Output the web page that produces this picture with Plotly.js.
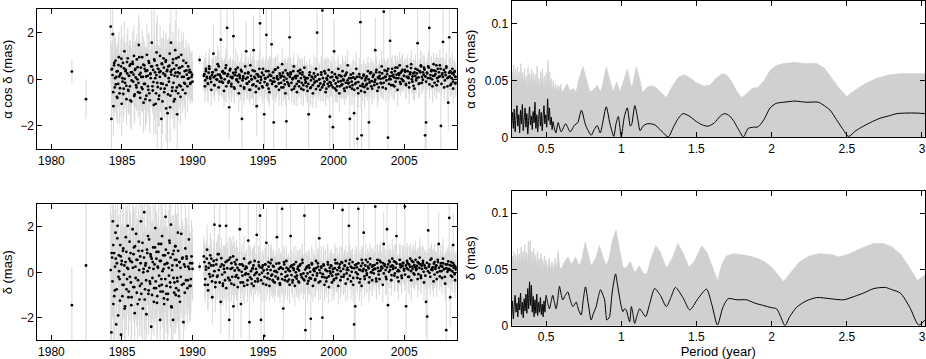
<!DOCTYPE html>
<html><head><meta charset="utf-8">
<script src="https://cdn.plot.ly/plotly-3.0.1.min.js"></script>
<style>html,body{margin:0;padding:0;background:#fff}#chart{width:926px;height:359px}</style>
</head><body><div id="chart"></div>
<script>
// ---- observation epochs (years), main set ----
const epochs = [
1981.45,1982.45,
1984.20,1984.25,1984.30,1984.35,1984.39,1984.44,1984.49,1984.54,1984.59,1984.64,
1984.69,1984.73,1984.78,1984.83,1984.88,1984.93,1984.98,1985.03,1985.07,1985.12,
1985.17,1985.22,1985.27,1985.32,1985.37,1985.41,1985.46,1985.51,1985.56,1985.61,
1985.66,1985.71,1985.75,1985.80,1985.85,1985.90,1985.95,1986.00,1986.05,1986.09,
1986.14,1986.19,1986.24,1986.29,1986.34,1986.39,1986.43,1986.48,1986.53,1986.58,
1986.63,1986.68,1986.73,1986.77,1986.82,1986.87,1986.92,1986.97,1987.02,1987.07,
1987.11,1987.16,1987.21,1987.26,1987.31,1987.36,1987.41,1987.45,1987.50,1987.55,
1987.60,1987.65,1987.70,1987.75,1987.79,1987.84,1987.89,1987.94,1987.99,1988.04,
1988.09,1988.13,1988.18,1988.23,1988.28,1988.33,1988.38,1988.43,1988.47,1988.52,
1988.57,1988.62,1988.67,1988.72,1988.77,1988.81,1988.86,1988.91,1988.96,1989.01,
1989.06,1989.11,1989.15,1989.20,1989.25,1989.30,1989.35,1989.40,1989.45,1989.49,
1989.54,1989.59,1989.64,1989.69,1989.74,1989.79,1989.83,1989.88,1989.93,1990.00,
1990.50,
1990.80,1990.88,1990.95,1991.03,1991.10,1991.18,1991.25,1991.33,1991.40,1991.48,
1991.55,1991.63,1991.70,1991.78,1991.85,1991.93,1992.00,1992.08,1992.15,1992.23,
1992.30,1992.38,1992.45,1992.53,1992.60,1992.68,1992.75,1992.83,1992.90,1992.98,
1993.05,1993.13,1993.20,1993.28,1993.35,1993.43,1993.50,1993.58,1993.65,1993.73,
1993.80,1993.88,1993.95,1994.03,1994.10,1994.18,1994.25,1994.33,1994.40,1994.48,
1994.55,1994.63,1994.70,1994.78,1994.85,1994.93,1995.00,1995.08,1995.15,1995.23,
1995.30,1995.38,1995.45,1995.53,1995.60,1995.68,1995.75,1995.83,1995.90,1995.98,
1996.05,1996.13,1996.20,1996.28,1996.35,1996.43,1996.50,1996.58,1996.65,1996.73,
1996.80,1996.88,1996.95,1997.03,1997.10,1997.18,1997.25,1997.33,1997.40,1997.48,
1997.55,1997.63,1997.70,1997.78,1997.85,1997.93,1998.00,1998.08,1998.15,1998.23,
1998.30,1998.38,1998.45,1998.53,1998.60,1998.68,1998.75,1998.83,1998.90,1998.98,
1999.05,1999.13,1999.20,1999.28,1999.35,1999.43,1999.50,1999.58,1999.65,1999.73,
1999.80,1999.88,1999.95,2000.03,2000.10,2000.18,2000.25,2000.33,2000.40,2000.48,
2000.55,2000.63,2000.70,2000.78,2000.85,2000.93,2001.00,2001.08,2001.15,2001.23,
2001.30,2001.38,2001.45,2001.53,2001.60,2001.68,2001.75,2001.83,2001.90,2001.98,
2002.05,2002.13,2002.20,2002.28,2002.35,2002.43,2002.50,2002.58,2002.65,2002.73,
2002.80,2002.88,2002.95,2003.03,2003.10,2003.18,2003.25,2003.33,2003.40,2003.48,
2003.55,2003.63,2003.70,2003.78,2003.85,2003.93,2004.00,2004.08,2004.15,2004.23,
2004.30,2004.38,2004.45,2004.53,2004.60,2004.68,2004.75,2004.83,2004.90,2004.98,
2005.05,2005.13,2005.20,2005.28,2005.35,2005.43,2005.50,2005.58,2005.65,2005.73,
2005.80,2005.88,2005.95,2006.03,2006.10,2006.18,2006.25,2006.33,2006.40,2006.48,
2006.55,2006.63,2006.70,2006.78,2006.85,2006.93,2007.00,2007.08,2007.15,2007.23,
2007.30,2007.38,2007.45,2007.53,2007.60,2007.68,2007.75,2007.83,2007.90,2007.98,
2008.05,2008.12,2008.19,2008.26,2008.33,2008.40,2008.47,2008.54,2008.61,2008.68
];
const raValues = [
0.33,-0.85,
2.26,-1.70,0.45,1.93,-1.15,0.60,-0.35,0.80,0.10,-0.75,
0.35,-0.20,0.95,-0.60,0.20,0.55,-1.05,0.05,0.70,-0.40,
1.20,-0.15,0.40,-0.85,0.25,0.90,-0.50,0.15,-0.30,0.65,
-0.95,0.30,0.75,-0.10,1.00,-0.65,0.45,-0.25,0.85,0.00,
-0.55,1.47,0.20,-0.80,0.50,-0.35,0.95,0.10,-1.00,0.60,
-0.20,0.35,-0.70,1.05,0.15,-0.45,0.70,-0.90,0.25,0.55,
1.57,-0.30,0.40,-1.10,0.80,0.05,-0.60,1.15,-0.15,0.45,
-0.85,0.30,1.00,-0.40,-1.70,0.65,-0.20,0.90,-0.55,0.20,
0.75,-1.25,0.35,-1.45,0.55,-0.10,1.10,-0.70,1.57,0.40,
-0.35,0.85,-0.95,0.15,1.25,-0.50,0.60,-1.50,0.30,0.95,
-0.25,0.50,-0.75,1.05,0.10,-0.45,0.80,-0.15,0.35,-0.60,
0.70,0.20,-0.30,0.55,0.05,0.40,-0.20,0.30,0.10,-0.10,
0.83,
0.15,-0.30,0.45,0.05,-0.20,0.55,0.10,-0.45,0.30,1.10,
-0.25,0.40,0.00,0.65,-0.35,0.20,1.70,-0.10,0.35,-0.50,
0.25,0.60,2.20,-0.15,-1.20,0.45,-0.30,0.10,1.85,-0.40,
0.30,-0.05,0.50,-0.60,0.15,0.40,-1.70,0.05,-0.35,0.55,
1.20,-0.20,0.25,-0.45,0.60,0.00,-0.25,1.25,0.35,-0.55,
-1.15,0.20,-0.40,2.40,0.10,-0.30,0.45,-1.50,0.05,1.90,
-0.20,0.35,-0.55,0.15,1.50,-0.10,-1.85,0.40,-0.30,0.05,
0.50,-0.45,0.20,-0.15,0.65,-0.35,0.10,-0.60,-1.80,0.25,
-0.20,1.80,0.30,-0.45,0.05,0.55,-0.30,0.15,-0.55,0.35,
-0.10,0.40,-0.40,0.20,-0.25,0.50,-0.15,0.05,-0.50,-1.50,
0.30,-0.35,0.10,-0.60,0.25,-0.10,0.45,2.00,-0.30,0.00,
-0.45,0.20,2.95,-0.25,0.35,-0.55,0.05,-0.20,0.40,-1.60,
-0.15,0.30,-2.05,1.20,-0.40,0.10,-0.30,0.45,-0.60,0.15,
-0.25,0.35,-0.05,-0.50,0.20,-0.35,0.60,-0.15,-1.70,0.05,
-0.40,0.25,-1.45,-0.20,0.45,-2.55,-0.60,0.10,2.45,-2.40,
-0.30,0.20,-0.55,0.05,-0.20,0.35,-1.85,-0.10,0.30,-0.40,
0.15,-0.25,1.25,0.40,-0.50,0.05,0.30,-0.15,0.55,-0.35,
2.90,0.10,-0.40,0.35,-2.50,0.00,1.65,-0.25,0.45,0.20,
-0.30,0.50,0.05,-0.45,0.25,0.60,-0.20,0.35,-0.05,0.15,
0.40,-0.25,0.55,0.10,-0.35,0.30,0.65,-0.10,0.25,-0.40,
0.45,0.05,1.55,-0.20,0.35,0.60,-0.15,0.30,0.50,-2.40,
-1.85,0.25,0.55,2.20,0.05,0.40,-0.30,0.65,0.15,0.35,
-0.25,0.45,0.10,0.60,-2.00,0.20,1.60,-0.35,0.30,0.50,
0.05,-1.00,1.80,0.35,-0.20,0.25,-0.40,0.30,0.10,-0.15
];
const raErrors = [
0.5,0.85,
2.5,1.6,1.2,1.4,1.3,1.1,1.2,1.0,1.3,1.1,
1.2,1.0,1.1,1.3,0.9,1.2,1.4,1.0,1.1,1.2,
1.3,1.0,1.2,1.1,0.9,1.3,1.0,1.1,1.2,1.0,
1.2,1.1,0.9,1.0,1.3,1.1,1.2,1.0,1.1,0.9,
1.1,1.3,1.0,1.2,1.1,1.0,1.2,1.1,1.3,1.0,
1.1,1.0,1.2,1.3,1.0,1.1,1.2,1.4,1.0,1.1,
2.8,1.0,1.1,1.3,1.2,1.0,1.1,1.3,2.9,1.0,
1.2,1.1,1.3,1.0,1.6,1.1,1.0,1.2,1.1,1.0,
1.1,1.4,1.0,1.6,1.2,1.1,1.3,1.0,2.5,1.1,
1.0,1.2,1.1,1.0,1.3,1.1,1.0,1.5,1.1,1.2,
1.0,1.1,1.2,1.0,1.1,1.0,1.2,1.1,1.0,1.1,
1.0,0.9,1.1,1.0,0.9,1.0,0.8,0.9,1.0,0.9,
0.2,
0.6,0.7,0.5,0.6,0.8,0.6,0.5,0.7,0.6,1.2,
0.7,0.6,0.5,0.8,0.6,0.7,1.8,0.6,0.5,0.7,
0.6,0.7,2.5,0.6,1.4,0.5,0.7,0.6,2.0,0.6,
0.5,0.7,0.6,0.8,0.6,0.5,1.9,0.7,0.6,0.5,
1.3,0.6,0.7,0.5,0.6,0.8,0.6,1.5,0.5,0.7,
1.3,0.6,0.5,2.8,0.7,0.6,0.5,1.6,0.6,2.2,
0.7,0.5,0.6,0.8,1.7,0.6,2.0,0.5,0.7,0.6,
0.6,0.7,0.5,0.6,0.7,0.6,0.8,0.5,2.0,0.6,
0.7,2.1,0.6,0.5,0.7,0.6,0.8,0.5,0.6,0.7,
0.6,0.5,0.7,0.6,0.8,0.5,0.6,0.7,0.5,1.7,
0.6,0.7,0.5,0.6,0.8,0.6,0.5,2.3,0.6,0.7,
0.5,0.6,3.0,0.7,0.5,0.6,0.8,0.6,0.5,1.8,
0.6,0.7,2.2,1.4,0.6,0.5,0.7,0.6,0.8,0.5,
0.6,0.7,0.5,0.6,0.8,0.5,0.7,0.6,1.9,0.5,
0.7,0.6,1.6,0.5,0.7,2.8,0.6,0.5,2.7,2.6,
0.6,0.5,0.7,0.6,0.5,0.6,2.0,0.5,0.6,0.7,
0.5,0.6,1.4,0.5,0.7,0.6,0.5,0.6,0.7,0.5,
3.0,0.5,0.6,0.5,2.7,0.6,1.8,0.5,0.6,0.5,
0.6,0.5,0.6,0.7,0.5,0.6,0.5,0.6,0.5,0.6,
0.5,0.6,0.5,0.6,0.7,0.5,0.6,0.5,0.6,0.5,
0.6,0.5,1.8,0.6,0.5,0.6,0.5,0.7,0.6,2.6,
2.0,0.5,0.6,2.4,0.5,0.6,0.7,0.5,0.6,0.5,
0.6,0.5,0.6,0.7,2.2,0.5,1.8,0.6,0.5,0.6,
0.5,1.2,2.0,0.6,0.5,0.6,0.7,0.5,0.6,0.5
];
const decValues = [
-1.45,0.30,
0.10,-2.65,0.65,2.25,-1.40,0.85,-0.80,1.75,-2.30,0.40,
2.05,-1.90,0.75,-0.30,1.20,-2.75,0.50,-1.05,0.95,-0.55,
0.30,-1.50,1.55,-0.75,0.20,2.05,-1.10,0.60,-0.20,0.85,
-1.45,0.45,1.90,-0.65,1.10,-1.80,0.25,1.70,-0.90,0.55,
-0.35,1.35,-1.20,0.70,2.25,-0.50,0.95,-1.60,0.15,2.65,
-0.75,0.40,-1.85,1.00,0.05,-0.95,1.45,-0.40,0.80,-2.40,
0.60,-0.25,1.10,-1.30,0.35,1.95,-0.70,0.90,-1.05,0.20,
1.25,-0.60,-2.10,0.50,-0.30,1.60,-0.85,0.15,-1.40,0.75,
2.45,-0.95,0.40,-1.20,0.85,-0.15,1.30,-0.65,2.10,-1.55,
0.30,-2.10,0.95,-0.45,1.15,-1.00,0.55,-0.25,1.75,-0.80,
0.45,-1.30,0.20,1.70,-0.55,0.65,-2.20,0.35,-0.90,1.05,
-0.35,0.60,-0.70,0.25,1.45,-0.60,0.40,-0.30,0.70,0.15,
0.25,
0.70,-0.55,0.25,1.00,-0.80,0.40,-0.20,0.60,-1.10,0.30,
2.10,-0.45,0.55,-0.15,0.80,2.05,-1.30,0.35,-0.60,0.15,
-0.35,2.05,0.50,-0.25,-2.10,0.65,-0.50,0.20,-1.50,0.45,
-0.20,0.55,-0.65,0.10,1.90,-1.40,0.35,-0.45,0.60,-0.10,
0.25,-0.55,1.40,-2.20,0.45,-0.30,0.15,-0.60,0.50,-0.05,
1.65,-0.40,0.30,2.50,-2.10,0.20,-0.50,-2.80,0.35,1.30,
-0.25,0.45,-0.60,0.10,0.55,-0.35,0.25,-0.45,0.05,1.55,
-0.30,0.40,-0.55,0.20,2.80,-1.60,0.35,-0.20,0.50,-0.40,
0.15,-0.55,1.60,0.30,-0.35,0.10,-0.60,0.45,-0.15,0.25,
-0.45,0.35,-0.10,0.55,-0.30,2.50,-2.55,0.20,-0.50,0.30,
-0.25,-2.05,0.40,-0.60,0.15,-0.35,0.50,-0.05,0.25,1.50,
-0.40,0.20,-2.00,0.35,-0.55,0.10,-0.25,0.45,-0.65,0.05,
0.30,-0.45,0.15,-0.30,0.55,-0.10,0.40,-0.60,0.20,-0.35,
0.45,2.75,-0.20,0.30,-0.50,0.10,-0.30,2.05,0.55,-0.40,
0.20,-0.55,-2.30,-1.50,0.35,-0.25,2.80,-0.45,0.10,-0.60,
0.40,1.75,-0.30,0.55,-0.05,0.25,-0.45,0.60,0.00,-0.35,
0.30,0.15,2.90,-0.40,0.55,0.05,-0.30,0.45,0.20,-0.55,
1.25,0.35,-0.20,1.90,-1.45,0.50,0.10,-0.35,0.60,0.25,
-0.15,0.45,1.60,0.05,-0.40,0.55,0.30,-0.25,0.40,0.15,
2.90,-1.50,0.50,-0.20,0.35,0.60,-0.35,0.25,0.45,-0.10,
0.55,0.15,-0.30,0.40,0.65,-0.15,0.30,0.50,-0.45,0.20,
-1.30,-1.95,1.85,0.35,-0.20,0.60,0.10,-0.40,0.45,0.25,
-0.30,0.55,1.25,0.05,0.40,-0.25,0.60,0.15,-0.50,-2.55,
0.35,0.10,2.40,-1.10,0.45,-0.20,1.20,0.30,-0.35,0.20
];
const decErrors = [
1.7,3.5,
3.4,1.8,1.6,2.0,1.7,1.9,1.5,1.8,1.6,1.7,
2.0,1.6,1.8,1.5,1.9,1.7,1.6,1.8,2.0,1.5,
1.7,1.9,1.6,1.8,1.5,2.0,1.7,1.6,1.9,1.8,
1.6,1.7,2.2,1.5,1.8,1.9,1.6,1.7,1.5,1.8,
1.7,2.0,1.6,1.8,1.9,1.5,2.2,1.7,1.6,1.9,
1.8,1.6,1.7,2.0,1.5,1.8,1.9,1.6,2.1,1.7,
1.6,1.8,1.9,1.5,1.7,2.0,1.6,1.8,1.7,1.9,
1.9,1.6,1.7,1.8,1.5,2.1,1.6,1.9,1.7,1.8,
2.0,1.7,1.6,1.8,1.9,1.5,1.7,1.8,2.0,1.6,
1.7,1.9,1.6,1.8,1.5,1.7,2.0,1.6,1.8,1.7,
1.6,1.8,1.7,1.9,1.5,1.6,1.8,1.7,1.6,1.9,
1.5,1.7,1.6,1.8,1.5,1.6,1.4,1.5,1.6,1.4,
0.2,
0.9,0.8,1.0,1.1,0.9,0.8,1.0,0.9,1.2,0.8,
2.3,0.9,0.8,1.0,0.9,2.2,1.4,0.8,0.9,1.0,
0.9,2.4,0.8,1.0,2.3,0.9,0.8,1.0,1.6,0.9,
0.8,0.9,1.0,0.8,2.1,1.5,0.9,0.8,1.0,0.9,
0.7,0.8,1.6,2.4,0.7,0.8,0.9,0.7,0.8,0.7,
1.8,0.7,0.8,2.8,2.3,0.7,0.8,3.0,0.7,1.5,
0.7,0.8,0.7,0.9,0.7,0.8,0.7,0.8,0.7,1.7,
0.8,0.7,0.8,0.7,3.0,1.8,0.7,0.8,0.7,0.8,
0.7,0.8,1.8,0.7,0.8,0.7,0.9,0.7,0.8,0.7,
0.8,0.7,0.8,0.7,0.9,2.7,2.8,0.7,0.8,0.7,
0.7,2.3,0.8,0.7,0.8,0.7,0.9,0.7,0.8,1.7,
0.8,0.7,2.2,0.8,0.7,0.9,0.7,0.8,0.7,0.8,
0.7,0.8,0.7,0.9,0.7,0.8,0.7,0.8,0.7,0.8,
0.7,3.0,0.8,0.7,0.8,0.7,0.9,2.3,0.7,0.8,
0.8,0.7,2.5,1.7,0.8,0.7,3.0,0.8,0.7,0.9,
0.7,1.9,0.8,0.7,0.8,0.7,0.9,0.7,0.8,0.7,
0.8,0.7,3.0,0.8,0.7,0.8,0.7,0.9,0.7,0.8,
1.4,0.7,0.8,2.1,1.6,0.7,0.8,0.7,0.9,0.7,
0.7,0.8,1.8,0.7,0.8,0.7,0.9,0.7,0.8,0.7,
3.0,1.7,0.8,0.7,0.8,0.7,0.9,0.7,0.8,0.7,
0.8,0.7,0.8,0.7,0.9,0.7,0.8,0.7,0.8,0.7,
1.5,2.2,2.0,0.7,0.8,0.7,0.9,0.7,0.8,0.7,
0.8,0.7,1.4,0.7,0.8,0.7,0.9,0.7,0.8,2.8,
0.7,0.8,2.6,1.3,0.8,0.7,1.4,0.7,0.8,0.7
];

// ---- additional sessions (denser sampling) ----
const extraEpochs = [
1984.27,1984.33,1984.38,1984.45,1984.51,1984.56,1984.62,1984.67,1984.75,1984.80,
1984.86,1984.91,1984.96,1985.04,1985.09,1985.14,1985.19,1985.25,1985.31,1985.36,
1985.43,1985.48,1985.54,1985.59,1985.63,1985.68,1985.77,1985.82,1985.87,1985.92,
1985.97,1986.03,1986.11,1986.17,1986.22,1986.27,1986.32,1986.37,1986.45,1986.51,
1986.56,1986.61,1986.66,1986.71,1986.79,1986.84,1986.89,1986.94,1987.00,1987.04,
1987.13,1987.18,1987.23,1987.28,1987.34,1987.39,1987.44,1987.48,1987.53,1987.58,
1987.63,1987.68,1987.73,1987.77,1987.82,1987.87,1987.92,1987.97,1988.02,1988.07,
1988.11,1988.16,1988.21,1988.26,1988.31,1988.36,1988.41,1988.45,1988.50,1988.55,
1988.60,1988.65,1988.70,1988.74,1988.79,1988.84,1988.89,1988.93,1988.98,1989.03,
1989.08,1989.17,1989.27,1989.38,1989.47,1989.57,1989.67,1989.77,1989.86,1989.97,
1990.84,1990.90,1990.95,1991.01,1991.08,1991.14,1991.19,1991.26,1991.32,1991.38,
1991.44,1991.50,1991.55,1991.61,1991.68,1991.74,1991.79,1991.86,1991.92,1991.98,
1992.04,1992.10,1992.15,1992.21,1992.28,1992.34,1992.39,1992.46,1992.52,1992.58,
1992.64,1992.70,1992.75,1992.81,1992.88,1992.94,1992.99,1993.06,1993.12,1993.18,
1993.24,1993.30,1993.35,1993.41,1993.48,1993.54,1993.59,1993.66,1993.72,1993.78,
1993.84,1993.90,1993.95,1994.01,1994.08,1994.14,1994.19,1994.26,1994.32,1994.38,
1994.44,1994.50,1994.55,1994.61,1994.68,1994.74,1994.79,1994.86,1994.92,1994.98,
1995.04,1995.10,1995.15,1995.21,1995.28,1995.34,1995.39,1995.46,1995.52,1995.58,
1995.64,1995.70,1995.75,1995.81,1995.88,1995.94,1995.99,1996.06,1996.12,1996.18,
1996.24,1996.30,1996.35,1996.41,1996.48,1996.54,1996.59,1996.66,1996.72,1996.78,
1996.84,1996.90,1996.95,1997.01,1997.08,1997.14,1997.19,1997.26,1997.32,1997.38,
1997.44,1997.50,1997.55,1997.61,1997.68,1997.74,1997.79,1997.86,1997.92,1997.98,
1998.04,1998.10,1998.15,1998.21,1998.28,1998.34,1998.39,1998.46,1998.52,1998.58,
1998.64,1998.70,1998.75,1998.81,1998.88,1998.94,1998.99,1999.06,1999.12,1999.18,
1999.24,1999.30,1999.35,1999.41,1999.48,1999.54,1999.59,1999.66,1999.72,1999.78,
1999.84,1999.90,1999.95,2000.01,2000.08,2000.14,2000.19,2000.26,2000.32,2000.38,
2000.44,2000.50,2000.55,2000.61,2000.68,2000.74,2000.79,2000.86,2000.92,2000.98,
2001.04,2001.10,2001.15,2001.21,2001.28,2001.34,2001.39,2001.46,2001.52,2001.58,
2001.64,2001.70,2001.75,2001.81,2001.88,2001.94,2001.99,2002.06,2002.12,2002.18,
2002.24,2002.30,2002.35,2002.41,2002.48,2002.54,2002.59,2002.66,2002.72,2002.78,
2002.84,2002.90,2002.95,2003.01,2003.08,2003.14,2003.19,2003.26,2003.32,2003.38,
2003.44,2003.50,2003.55,2003.61,2003.68,2003.74,2003.79,2003.86,2003.92,2003.98,
2004.04,2004.10,2004.15,2004.21,2004.28,2004.34,2004.39,2004.46,2004.52,2004.58,
2004.64,2004.70,2004.75,2004.81,2004.88,2004.94,2004.99,2005.06,2005.12,2005.18,
2005.24,2005.30,2005.35,2005.41,2005.48,2005.54,2005.59,2005.66,2005.72,2005.78,
2005.84,2005.90,2005.95,2006.01,2006.08,2006.14,2006.19,2006.26,2006.32,2006.38,
2006.44,2006.50,2006.55,2006.61,2006.68,2006.74,2006.79,2006.86,2006.92,2006.98,
2007.04,2007.10,2007.15,2007.21,2007.28,2007.34,2007.39,2007.46,2007.52,2007.58,
2007.64,2007.70,2007.75,2007.81,2007.88,2007.94,2007.99,2008.06,2008.12,2008.18,
2008.22,2008.27,2008.31,2008.36,2008.41,2008.46,2008.51,2008.57,2008.62,2008.67
];
const extraRaValues = [
0.42,0.18,-0.55,0.70,0.05,-0.22,0.33,-0.80,0.61,0.12,
-0.38,0.25,0.88,-0.10,-0.63,0.47,0.02,0.35,-0.28,0.74,
-0.45,0.15,0.58,-0.90,0.30,-0.05,0.66,0.20,-0.72,0.40,
0.08,-0.35,0.52,-0.15,0.95,-0.58,0.27,0.10,-0.42,0.63,
-0.20,0.45,-0.85,0.12,0.38,-0.30,0.78,-0.60,0.22,0.05,
0.55,-0.48,-0.12,0.85,0.30,-1.05,0.18,0.60,-0.33,0.44,
-0.70,0.10,0.35,-0.18,0.68,-0.95,0.25,0.50,-0.40,0.15,
0.82,-0.25,0.40,-0.65,0.05,0.58,-1.20,0.32,0.20,-0.50,
0.70,-0.15,0.45,-0.85,0.28,0.90,-0.35,0.12,-0.60,0.48,
0.25,-0.30,0.55,0.10,-0.20,0.38,0.02,0.30,-0.15,0.20,
0.22,-0.05,0.35,0.10,-0.18,0.28,0.45,0.02,-0.12,0.18,
0.30,0.08,-0.25,0.15,0.40,-0.02,0.20,0.55,-0.10,0.12,
0.05,0.32,-0.15,0.25,0.00,0.48,-0.30,0.14,0.22,-0.08,
0.38,0.10,-0.20,0.05,0.27,-0.35,0.18,0.42,0.00,0.15,
-0.12,0.20,0.05,-0.28,0.33,-0.05,0.12,-0.40,0.25,0.02,
-0.18,0.08,0.30,-0.10,-0.45,0.15,0.00,0.38,-0.22,0.10,
0.05,-0.30,0.22,-0.08,0.12,0.45,-0.15,-0.02,0.28,-0.35,
0.18,-0.12,0.02,0.35,-0.25,0.10,-0.40,0.20,-0.05,0.15,
-0.20,0.30,0.05,-0.10,0.42,-0.30,0.12,0.00,-0.18,0.25,
0.08,-0.35,0.15,0.28,-0.05,-0.22,0.38,0.02,-0.12,0.18,
-0.28,0.10,0.22,-0.15,0.00,0.35,-0.40,0.12,0.05,-0.20,
0.15,-0.08,-0.30,0.25,0.05,-0.15,0.30,-0.45,0.10,-0.02,
-0.12,-0.30,0.05,-0.20,0.18,-0.38,-0.05,0.10,-0.25,0.02,
-0.15,0.12,-0.42,-0.08,0.20,-0.28,0.00,-0.18,0.30,-0.35,
0.05,-0.22,-0.10,0.25,-0.40,-0.02,0.15,-0.30,-0.12,0.08,
-0.25,0.10,-0.35,-0.05,0.22,-0.18,-0.48,0.05,-0.10,0.18,
-0.30,-0.08,0.12,-0.22,0.00,-0.40,0.15,-0.15,0.28,-0.05,
-0.18,0.05,-0.32,0.20,-0.10,-0.25,0.08,-0.45,0.02,-0.15,
0.10,-0.38,-0.12,0.22,-0.28,-0.50,0.05,-0.20,0.15,-0.33,
-0.05,-0.25,0.12,-0.40,0.00,-0.15,0.25,-0.30,-0.08,0.10,
0.20,-0.12,-0.02,0.30,-0.20,0.08,-0.35,0.15,0.02,-0.18,
0.25,0.05,-0.15,0.38,0.10,-0.05,0.22,0.45,-0.20,0.12,
0.00,0.30,0.15,-0.25,0.08,0.35,-0.10,0.20,0.50,0.05,
0.18,-0.12,0.28,0.02,0.40,-0.08,0.15,0.32,-0.20,0.10,
0.35,0.05,-0.15,0.22,0.48,0.00,0.12,-0.28,0.30,0.15,
-0.05,0.25,0.40,0.08,-0.18,0.30,0.55,0.10,-0.02,0.20,
0.42,0.12,-0.10,0.28,0.05,0.50,-0.22,0.18,0.35,0.00,
0.15,0.38,-0.15,0.22,0.60,0.05,-0.08,0.30,0.12,0.45,
-0.20,0.25,0.10,0.40,-0.05,0.18,0.55,-0.30,0.08,0.28,
0.12,-0.25,0.30,0.05,0.45,-0.10,0.20,0.35,-0.18,0.10
];
const extraRaErrors = [
1.1,1.2,1.0,1.3,1.1,1.2,1.0,1.1,1.3,1.0,
1.2,1.1,1.4,1.0,1.2,1.1,1.3,1.0,1.1,1.2,
1.0,1.3,1.1,1.2,1.0,1.1,1.4,1.0,1.2,1.1,
1.3,1.0,1.1,1.2,1.5,1.0,1.1,1.3,1.0,1.2,
1.1,1.0,1.3,1.2,1.0,1.1,1.2,1.4,1.0,1.1,
1.2,1.0,1.1,2.6,1.2,1.3,1.0,1.1,1.2,1.0,
1.3,1.1,1.0,1.2,1.1,1.4,1.0,1.2,1.1,1.0,
1.2,1.1,1.3,1.0,1.1,1.2,1.5,1.0,1.1,1.2,
1.0,1.1,1.2,1.3,1.0,2.2,1.1,1.0,1.2,1.1,
1.0,0.9,1.1,1.0,0.9,1.0,0.9,1.0,0.9,1.0,
0.7,0.6,0.8,0.5,0.7,0.6,0.9,0.5,0.6,0.7,
0.6,0.8,0.5,0.7,0.6,0.5,0.8,0.7,0.6,0.5,
0.8,0.6,0.7,0.5,0.9,0.6,0.7,0.5,0.6,0.8,
0.5,0.7,0.6,0.8,0.5,0.7,0.6,0.9,0.5,0.6,
0.6,0.5,0.7,0.6,0.8,0.5,0.6,0.7,0.5,0.6,
0.7,0.6,0.5,0.8,0.6,0.7,0.5,0.6,0.9,0.5,
0.5,0.7,0.6,0.5,0.7,0.8,0.6,0.5,0.6,0.7,
0.6,0.5,0.8,0.6,0.5,0.7,0.6,0.8,0.5,0.6,
0.7,0.6,0.5,0.7,0.6,0.5,0.8,0.6,0.7,0.5,
0.5,0.8,0.6,0.5,0.7,0.6,0.5,0.7,0.6,0.8,
0.6,0.5,0.7,0.8,0.5,0.6,0.7,0.5,0.6,0.7,
0.7,0.6,0.5,0.6,0.8,0.5,0.6,0.7,0.5,0.6,
0.5,0.7,0.6,0.5,0.6,0.8,0.7,0.5,0.6,0.5,
0.6,0.5,0.8,0.6,0.7,0.5,0.6,0.5,0.7,0.6,
0.7,0.6,0.5,0.7,0.5,0.6,0.8,0.6,0.5,0.7,
0.5,0.6,0.7,0.5,0.6,0.7,0.5,0.8,0.6,0.5,
0.6,0.7,0.5,0.6,0.8,0.5,0.6,0.7,0.5,0.6,
0.5,0.6,0.7,0.5,0.6,0.5,0.7,0.6,0.8,0.5,
0.6,0.5,0.6,0.7,0.5,0.8,0.6,0.5,0.7,0.6,
0.7,0.5,0.6,0.5,0.7,0.6,0.5,0.6,0.5,0.7,
0.5,0.6,0.5,0.7,0.6,0.5,0.6,0.7,0.5,0.6,
0.6,0.5,0.7,0.5,0.6,0.5,0.6,0.5,0.7,0.5,
0.5,0.6,0.5,0.6,0.5,0.7,0.5,0.6,0.5,0.6,
0.6,0.5,0.6,0.5,0.7,0.5,0.6,0.5,0.6,0.5,
0.5,0.6,0.5,0.7,0.5,0.6,0.5,0.6,0.5,0.7,
0.6,0.5,0.7,0.5,0.6,0.5,0.7,0.6,0.5,0.6,
0.5,0.6,0.5,0.6,0.5,0.7,0.6,0.5,0.6,0.5,
0.6,0.5,0.6,0.7,0.5,0.6,0.5,0.6,0.7,0.5,
0.5,0.7,0.6,0.5,0.6,0.5,0.6,0.7,0.5,0.6,
0.6,0.5,0.6,0.5,0.7,0.5,0.6,0.5,0.6,0.5
];
const extraDecValues = [
0.85,-0.40,1.20,-1.05,0.25,0.60,-0.75,1.50,-0.20,0.05,
-1.25,0.70,0.35,-0.55,1.05,-0.10,-1.60,0.45,0.90,-0.30,
0.15,-0.85,1.35,0.50,-0.45,-1.10,0.20,0.80,-0.65,1.15,
-0.25,0.55,-1.40,0.95,0.10,-0.60,0.40,-0.95,1.30,0.00,
0.65,-1.20,0.30,-0.35,0.85,1.60,-0.80,0.20,-0.50,0.70,
-1.00,0.45,0.15,-0.70,1.10,-0.40,0.60,-1.35,0.25,0.90,
-0.15,0.50,-0.85,1.25,-0.55,0.05,0.75,-1.15,0.35,-0.30,
1.00,-0.60,0.40,-0.95,0.20,1.40,-0.45,0.65,-1.50,0.10,
0.80,-0.25,-0.90,0.55,1.15,-0.70,0.30,-0.40,0.95,-1.05,
0.45,-0.20,0.60,-0.50,0.25,0.70,-0.35,0.15,-0.60,0.40,
0.45,-0.30,0.12,0.60,-0.55,0.20,-0.08,0.75,0.30,-0.40,
-0.15,0.50,0.05,-0.65,0.35,-0.20,0.80,0.10,-0.45,0.25,
0.62,-0.10,-0.50,0.30,0.00,0.45,-0.70,0.18,-0.25,0.55,
-0.35,0.15,0.40,-0.20,0.70,-0.55,0.08,0.35,-0.12,0.20,
-0.25,0.10,0.35,-0.45,0.02,-0.15,0.28,-0.60,0.15,-0.05,
0.20,-0.35,-0.08,0.40,-0.22,0.05,-0.50,0.18,0.30,-0.12,
-0.40,0.15,0.00,-0.28,0.45,-0.10,0.22,-0.35,-0.02,0.30,
0.08,-0.20,0.35,-0.55,0.12,-0.05,0.25,-0.30,0.40,-0.15,
-0.10,0.28,-0.42,0.05,-0.18,0.38,0.00,-0.25,0.15,-0.48,
0.22,-0.08,-0.30,0.15,0.45,-0.35,0.02,0.20,-0.15,0.10,
-0.32,0.05,0.25,-0.12,-0.45,0.18,0.35,-0.20,0.00,-0.28,
0.15,-0.40,0.08,0.30,-0.10,-0.22,0.42,-0.05,-0.35,0.12,
-0.18,0.25,-0.05,-0.38,0.20,0.02,-0.28,0.35,-0.12,0.10,
0.05,-0.30,0.18,-0.15,0.40,-0.45,0.10,-0.02,0.25,-0.20,
-0.08,0.30,-0.22,0.12,-0.40,0.05,0.35,-0.18,0.20,-0.05,
0.28,-0.15,0.02,-0.35,0.18,0.40,-0.25,0.10,-0.08,0.22,
0.35,0.05,-0.20,0.42,0.15,-0.10,0.28,0.50,-0.05,0.20,
0.10,0.38,-0.15,0.25,0.02,0.45,-0.25,0.18,0.32,0.00,
0.22,-0.08,0.40,0.12,-0.30,0.28,0.55,0.05,0.15,-0.18,
0.30,0.08,-0.12,0.45,0.18,-0.22,0.35,0.00,0.25,0.10,
-0.05,0.32,0.15,-0.28,0.40,0.20,-0.10,0.52,0.08,0.25,
0.18,0.40,-0.05,0.28,0.10,-0.30,0.22,0.35,0.02,0.45,
0.25,-0.12,0.30,0.15,0.48,-0.05,0.20,0.38,-0.22,0.10,
0.05,0.35,0.22,-0.15,0.28,0.42,0.08,-0.10,0.30,0.18,
0.40,0.12,-0.20,0.25,0.05,0.50,0.15,-0.05,0.32,0.22,
0.10,0.28,0.45,-0.08,0.20,0.35,-0.25,0.15,0.40,0.02,
0.30,-0.15,0.18,0.42,0.05,0.25,-0.02,0.55,0.12,0.20,
0.22,0.38,-0.10,0.15,0.30,0.00,0.45,0.20,-0.18,0.28,
0.05,0.25,0.40,0.12,-0.20,0.35,0.18,0.02,0.48,0.15,
0.32,0.10,-0.15,0.28,0.05,0.40,0.20,-0.08,0.25,0.12
];
const extraDecErrors = [
1.7,1.6,1.8,1.9,1.5,1.7,1.6,2.0,1.8,1.6,
1.9,1.7,1.5,1.8,1.6,1.9,2.1,1.7,1.8,1.6,
1.5,1.8,1.9,1.6,1.7,1.8,1.5,1.9,1.6,1.7,
1.8,1.6,2.0,1.7,1.5,1.8,1.6,1.9,1.7,1.6,
1.8,1.9,1.5,1.7,1.6,2.1,1.8,1.6,1.7,1.9,
1.6,1.8,1.7,1.5,1.9,1.6,1.8,2.0,1.7,1.6,
1.8,1.5,1.7,1.9,1.6,1.8,1.7,1.9,1.6,1.5,
1.8,1.7,1.6,1.9,1.5,2.0,1.7,1.8,2.1,1.6,
1.7,1.6,1.8,1.5,1.9,1.7,1.6,1.8,1.7,1.9,
1.5,1.6,1.7,1.5,1.6,1.7,1.5,1.6,1.5,1.6,
0.9,0.8,1.0,0.9,1.1,0.8,0.9,1.0,0.8,0.9,
1.0,0.9,0.8,1.1,0.9,1.0,0.8,0.9,1.0,0.8,
0.9,1.0,0.8,0.9,1.1,0.8,1.0,0.9,0.8,1.0,
0.8,0.9,1.0,0.8,0.9,1.0,0.9,0.8,1.1,0.9,
0.7,0.8,0.6,0.7,0.9,0.7,0.6,0.8,0.7,0.6,
0.8,0.7,0.6,0.8,0.7,0.9,0.6,0.7,0.8,0.7,
0.6,0.7,0.8,0.6,0.7,0.8,0.7,0.9,0.6,0.7,
0.7,0.6,0.8,0.7,0.6,0.7,0.8,0.6,0.7,0.9,
0.8,0.7,0.6,0.7,0.8,0.6,0.7,0.8,0.7,0.6,
0.6,0.8,0.7,0.6,0.7,0.9,0.6,0.7,0.8,0.7,
0.7,0.6,0.7,0.8,0.6,0.7,0.8,0.6,0.7,0.8,
0.8,0.7,0.6,0.7,0.9,0.6,0.7,0.8,0.6,0.7,
0.6,0.7,0.8,0.6,0.7,0.6,0.8,0.7,0.6,0.7,
0.7,0.8,0.6,0.7,0.6,0.8,0.7,0.6,0.9,0.7,
0.6,0.7,0.6,0.8,0.7,0.6,0.7,0.8,0.6,0.7,
0.7,0.6,0.8,0.7,0.6,0.7,0.6,0.7,0.8,0.6,
0.8,0.6,0.7,0.6,0.7,0.8,0.6,0.7,0.6,0.7,
0.6,0.7,0.6,0.7,0.8,0.6,0.7,0.6,0.7,0.8,
0.7,0.6,0.7,0.8,0.6,0.7,0.6,0.8,0.7,0.6,
0.6,0.7,0.8,0.6,0.7,0.6,0.7,0.6,0.8,0.7,
0.7,0.6,0.7,0.6,0.8,0.7,0.6,0.7,0.6,0.7,
0.6,0.8,0.6,0.7,0.6,0.7,0.8,0.6,0.7,0.6,
0.7,0.6,0.7,0.6,0.7,0.8,0.6,0.7,0.6,0.7,
0.6,0.7,0.6,0.8,0.6,0.7,0.6,0.7,0.8,0.6,
0.7,0.6,0.8,0.6,0.7,0.6,0.7,0.6,0.7,0.8,
0.6,0.7,0.6,0.7,0.6,0.8,0.7,0.6,0.7,0.6,
0.7,0.6,0.7,0.6,0.8,0.6,0.7,0.6,0.7,0.6,
0.6,0.7,0.6,0.7,0.6,0.7,0.8,0.6,0.6,0.7,
0.7,0.6,0.8,0.6,0.7,0.6,0.7,0.6,0.7,0.6,
0.6,0.7,0.6,0.7,0.6,0.7,0.6,0.8,0.6,0.7
];

// ---- periodogram, alpha cos delta ----
const raPeriods = [
0.270,0.276,0.282,0.288,0.294,0.300,0.306,0.312,0.318,0.324,0.330,0.336,0.342,0.348,0.354,0.360,
0.366,0.372,0.378,0.384,0.390,0.396,0.402,0.408,0.414,0.420,0.426,0.432,0.438,0.444,0.450,0.456,
0.462,0.468,0.474,0.480,0.486,0.492,0.498,0.504,0.510,0.516,0.522,0.528,0.534,0.540,0.546,0.552,
0.565,0.58,0.60,0.63,0.66,0.69,0.71,0.735,0.76,0.78,0.80,0.82,0.84,0.86,0.875,0.90,0.925,0.95,
0.965,0.98,0.99,1.0,1.02,1.04,1.06,1.07,1.09,1.11,1.125,1.145,1.17,1.20,1.225,1.25,1.28,1.312,
1.35,1.38,1.411,1.45,1.50,1.54,1.578,1.62,1.66,1.689,1.72,1.75,1.78,1.812,1.844,1.88,1.911,1.95,
1.99,2.03,2.08,2.156,2.23,2.311,2.35,2.389,2.43,2.47,2.512,2.56,2.611,2.67,2.722,2.78,2.833,2.9,
2.96,3.02
];
const raAmplitude = [
0.012,0.022,0.008,0.025,0.005,0.018,0.028,0.010,0.020,0.004,0.024,0.012,0.029,0.006,0.016,0.026,
0.009,0.021,0.003,0.015,0.027,0.011,0.019,0.007,0.023,0.013,0.031,0.008,0.020,0.005,0.017,0.025,
0.010,0.022,0.006,0.018,0.028,0.012,0.020,0.009,0.034,0.015,0.026,0.011,0.018,0.007,0.014,0.010,
0.004,0.013,0.005,0.012,0.005,0.011,0.013,0.024,0.012,0.006,0.002,0.007,0.0105,0.004,0.012,0.027,0.012,0.001,
0.012,0.0185,0.010,0.0005,0.018,0.026,0.010,0.012,0.028,0.016,0.006,0.010,0.012,0.012,0.011,0.008,0.004,0.0005,
0.010,0.017,0.021,0.019,0.014,0.011,0.010,0.013,0.019,0.021,0.019,0.014,0.007,0.0005,0.008,0.009,0.0095,0.016,
0.026,0.030,0.031,0.032,0.031,0.031,0.028,0.024,0.016,0.008,0.001,0.006,0.010,0.014,0.017,0.019,0.021,0.0215,
0.0215,0.021
];
const raBandPeriods = [
0.270,0.275,0.280,0.285,0.290,0.296,0.302,0.308,0.314,0.320,0.326,0.332,0.338,0.344,0.350,0.356,
0.362,0.368,0.374,0.380,0.386,0.392,0.398,0.404,0.410,0.416,0.422,0.428,0.434,0.440,0.446,0.452,
0.458,0.464,0.470,0.476,0.482,0.488,0.494,0.500,0.506,0.512,0.518,0.524,0.530,0.536,0.542,0.548,
0.554,0.562,0.570,0.578,0.586,0.595,0.605,
0.62,0.64,0.66,0.68,0.70,0.72,0.745,0.77,0.79,0.81,0.84,0.86,0.875,0.90,0.925,0.945,0.97,0.99,
1.01,1.04,1.065,1.075,1.10,1.125,1.14,1.17,1.20,1.23,1.26,1.30,1.34,1.38,1.42,1.46,1.50,1.55,
1.59,1.63,1.67,1.70,1.73,1.77,1.80,1.83,1.87,1.91,1.95,1.99,2.03,2.08,2.15,2.22,2.30,2.35,2.40,
2.45,2.50,2.55,2.62,2.70,2.78,2.85,3.02
];
const raBandUpper = [
0.042,0.058,0.045,0.064,0.047,0.060,0.044,0.062,0.046,0.058,0.043,0.065,0.047,0.057,0.044,0.061,
0.046,0.054,0.042,0.062,0.045,0.056,0.043,0.060,0.044,0.057,0.042,0.055,0.041,0.063,0.044,0.052,
0.041,0.058,0.043,0.061,0.042,0.054,0.041,0.057,0.043,0.068,0.044,0.058,0.042,0.052,0.040,0.050,
0.041,0.047,0.040,0.046,0.040,0.047,0.039,
0.042,0.047,0.041,0.043,0.040,0.052,0.062,0.050,0.040,0.041,0.046,0.040,0.045,0.062,0.050,0.040,0.049,0.040,
0.047,0.060,0.045,0.046,0.062,0.050,0.039,0.044,0.0455,0.044,0.040,0.035,0.045,0.053,0.055,0.052,0.048,0.045,
0.046,0.052,0.056,0.055,0.050,0.040,0.035,0.038,0.043,0.044,0.050,0.059,0.063,0.065,0.066,0.065,0.065,0.061,0.052,
0.043,0.036,0.041,0.047,0.052,0.055,0.056,0.056
];

// ---- periodogram, delta ----
const decPeriods = [
0.270,0.276,0.282,0.288,0.294,0.300,0.306,0.312,0.318,0.324,0.330,0.336,0.342,0.348,0.354,0.360,
0.366,0.372,0.378,0.384,0.390,0.396,0.402,0.408,0.414,0.420,0.426,0.432,0.438,0.444,0.450,0.456,
0.462,0.468,0.474,0.480,0.486,0.492,0.498,
0.50,0.511,0.522,0.533,0.544,0.555,0.567,0.578,0.589,0.60,0.611,0.628,0.644,0.66,0.678,0.69,0.70,
0.716,0.733,0.748,0.762,0.78,0.80,0.815,0.833,0.848,0.862,0.876,0.889,0.897,0.904,0.913,0.922,0.94,
0.962,0.975,0.989,1.0,1.011,1.022,1.033,1.045,1.056,1.067,1.078,1.089,1.105,1.122,1.14,1.162,1.19,
1.222,1.26,1.30,1.33,1.36,1.41,1.456,1.51,1.567,1.60,1.64,1.675,1.711,1.77,1.833,1.89,1.944,2.0,
2.033,2.06,2.089,2.12,2.167,2.23,2.30,2.39,2.478,2.55,2.611,2.68,2.756,2.80,2.856,2.92,2.978,3.02
];
const decAmplitude = [
0.010,0.022,0.006,0.018,0.027,0.012,0.020,0.008,0.025,0.014,0.029,0.010,0.021,0.007,0.024,0.013,
0.028,0.011,0.033,0.015,0.039,0.018,0.036,0.012,0.026,0.008,0.023,0.011,0.028,0.009,0.021,0.012,
0.025,0.010,0.019,0.008,0.022,0.012,0.026,
0.027,0.020,0.015,0.021,0.027,0.021,0.015,0.024,0.035,0.028,0.023,0.027,0.030,0.023,0.017,0.019,0.021,
0.014,0.0095,0.024,0.0345,0.020,0.005,0.011,0.017,0.026,0.032,0.028,0.023,0.012,0.005,0.006,0.008,0.030,
0.046,0.036,0.025,0.017,0.0125,0.015,0.014,0.008,0.0035,0.017,0.010,0.002,0.009,0.015,0.012,0.008,0.020,
0.033,0.027,0.017,0.025,0.034,0.025,0.014,0.024,0.0325,0.020,0.0006,0.016,0.024,0.023,0.023,0.020,0.018,0.016,
0.015,0.008,0.0,0.008,0.0165,0.022,0.025,0.024,0.023,0.026,0.029,0.033,0.034,0.032,0.029,0.016,0.0006,0.005
];
const decBandPeriods = [
0.270,0.275,0.280,0.286,0.292,0.298,0.304,0.310,0.316,0.322,0.328,0.334,0.340,0.346,0.352,0.358,
0.364,0.370,0.376,0.382,0.388,0.394,0.400,0.406,0.412,0.418,0.424,0.430,0.436,0.442,0.448,0.454,
0.460,0.466,0.472,0.478,0.484,0.490,0.496,0.502,0.510,0.520,0.530,0.540,0.550,0.560,0.570,0.580,0.590,
0.60,0.62,0.645,0.67,0.695,0.72,0.74,0.76,0.78,0.80,0.83,0.855,0.88,0.90,0.92,0.94,0.965,0.99,1.01,
1.03,1.06,1.09,1.12,1.15,1.17,1.20,1.23,1.26,1.30,1.34,1.375,1.41,1.45,1.49,1.535,1.57,1.61,1.64,
1.67,1.70,1.75,1.80,1.85,1.90,1.95,2.00,2.05,2.08,2.12,2.18,2.25,2.32,2.40,2.45,2.52,2.60,2.68,2.74,
2.80,2.86,2.92,2.97,3.02
];
const decBandUpper = [
0.045,0.062,0.050,0.066,0.052,0.063,0.048,0.068,0.053,0.064,0.050,0.070,0.054,0.066,0.051,0.072,
0.055,0.065,0.052,0.075,0.056,0.076,0.054,0.066,0.050,0.069,0.052,0.063,0.049,0.066,0.051,0.060,
0.048,0.064,0.050,0.059,0.047,0.062,0.049,0.058,0.047,0.060,0.049,0.057,0.048,0.060,0.050,0.066,0.052,
0.050,0.056,0.061,0.054,0.061,0.053,0.060,0.074,0.062,0.053,0.060,0.071,0.060,0.053,0.060,0.075,0.085,0.068,0.052,
0.051,0.057,0.047,0.053,0.046,0.046,0.060,0.071,0.065,0.051,0.060,0.073,0.065,0.052,0.058,0.071,0.065,0.050,0.040,
0.055,0.062,0.064,0.063,0.062,0.060,0.057,0.052,0.044,0.039,0.046,0.056,0.062,0.064,0.063,0.061,0.064,0.069,0.073,0.073,
0.070,0.063,0.051,0.040,0.045
];

// ---- tick labels ----
const yearTicks = [1980, 1985, 1990, 1995, 2000, 2005];
const residualTicks = [-2, 0, 2];
const periodTicks = [0.5, 1, 1.5, 2, 2.5, 3];
const amplitudeTicks = [0, 0.05, 0.1];

const allEpochs = epochs.concat(extraEpochs);
const allRa = raValues.concat(extraRaValues);
const allRaErr = raErrors.concat(extraRaErrors);
const allDec = decValues.concat(extraDecValues);
const allDecErr = decErrors.concat(extraDecErrors);

const FAM = '"Liberation Sans", Arial, Helvetica, sans-serif';
const TICKFONT = {family: FAM, size: 12, color: '#000'};
const TITLEFONT = {family: FAM, size: 13, color: '#000'};
const BAND = '#d0d0d0';
const ERRC = '#d8d8d8';

function ax(extra) {
  return Object.assign({
    showline: true, linecolor: '#000', linewidth: 1, mirror: 'ticks',
    ticks: 'inside', ticklen: 5, tickcolor: '#000', tickwidth: 1,
    showgrid: false, zeroline: false, tickfont: TICKFONT, automargin: false,
    fixedrange: true
  }, extra);
}

const traces = [
  {x: allEpochs, y: allRa, type: 'scatter', mode: 'markers', xaxis: 'x', yaxis: 'y',
   marker: {size: 3, color: 'rgba(0,0,0,0)'},
   error_y: {type: 'data', array: allRaErr, color: ERRC, thickness: 1, width: 0}},
  {x: allEpochs, y: allRa, type: 'scatter', mode: 'markers', xaxis: 'x', yaxis: 'y',
   marker: {size: 2.8, color: '#000'}},
  {x: allEpochs, y: allDec, type: 'scatter', mode: 'markers', xaxis: 'x2', yaxis: 'y2',
   marker: {size: 3, color: 'rgba(0,0,0,0)'},
   error_y: {type: 'data', array: allDecErr, color: ERRC, thickness: 1, width: 0}},
  {x: allEpochs, y: allDec, type: 'scatter', mode: 'markers', xaxis: 'x2', yaxis: 'y2',
   marker: {size: 2.8, color: '#000'}},
  {x: raBandPeriods, y: raBandUpper, type: 'scatter', mode: 'lines', xaxis: 'x3', yaxis: 'y3',
   fill: 'tozeroy', fillcolor: BAND, line: {color: BAND, width: 0.8}},
  {x: raPeriods, y: raAmplitude, type: 'scatter', mode: 'lines', xaxis: 'x3', yaxis: 'y3',
   line: {color: '#000', width: 1, shape: 'spline', smoothing: 0.7}},
  {x: decBandPeriods, y: decBandUpper, type: 'scatter', mode: 'lines', xaxis: 'x4', yaxis: 'y4',
   fill: 'tozeroy', fillcolor: BAND, line: {color: BAND, width: 0.8}},
  {x: decPeriods, y: decAmplitude, type: 'scatter', mode: 'lines', xaxis: 'x4', yaxis: 'y4',
   line: {color: '#000', width: 1, shape: 'spline', smoothing: 0.7}}
];

const layout = {
  width: 926, height: 359,
  margin: {l: 0, r: 0, t: 0, b: 0},
  paper_bgcolor: '#fff', plot_bgcolor: '#fff',
  showlegend: false, hovermode: false,
  font: TICKFONT,
  xaxis: ax({domain: [0.0403, 0.4932], range: [1979, 2008.72], tickvals: yearTicks, anchor: 'y'}),
  yaxis: ax({domain: [0.5841, 0.9741], range: [-3, 3], tickvals: residualTicks, anchor: 'x',
             title: {text: 'α cos δ (mas)', font: TITLEFONT, standoff: 8}}),
  xaxis2: ax({domain: [0.0403, 0.4932], range: [1979, 2008.72], tickvals: yearTicks, anchor: 'y2'}),
  yaxis2: ax({domain: [0.052, 0.4309], range: [-3, 3], tickvals: residualTicks, anchor: 'x2',
             title: {text: 'δ (mas)', font: TITLEFONT, standoff: 8}}),
  xaxis3: ax({domain: [0.5524, 0.9989], range: [0.27, 3.02], tickvals: periodTicks, anchor: 'y3'}),
  yaxis3: ax({domain: [0.617, 0.9972], range: [0, 0.12], tickvals: amplitudeTicks, anchor: 'x3',
             title: {text: 'α cos δ (mas)', font: TITLEFONT, standoff: 6}}),
  xaxis4: ax({domain: [0.5524, 0.9989], range: [0.27, 3.02], tickvals: periodTicks, anchor: 'y4',
             title: {text: 'Period (year)', font: TITLEFONT, standoff: 2}}),
  yaxis4: ax({domain: [0.0928, 0.4688], range: [0, 0.12], tickvals: amplitudeTicks, anchor: 'x4',
             title: {text: 'δ (mas)', font: TITLEFONT, standoff: 6}})
};

Plotly.newPlot('chart', traces, layout, {staticPlot: true, displayModeBar: false});
</script>
</body></html>
